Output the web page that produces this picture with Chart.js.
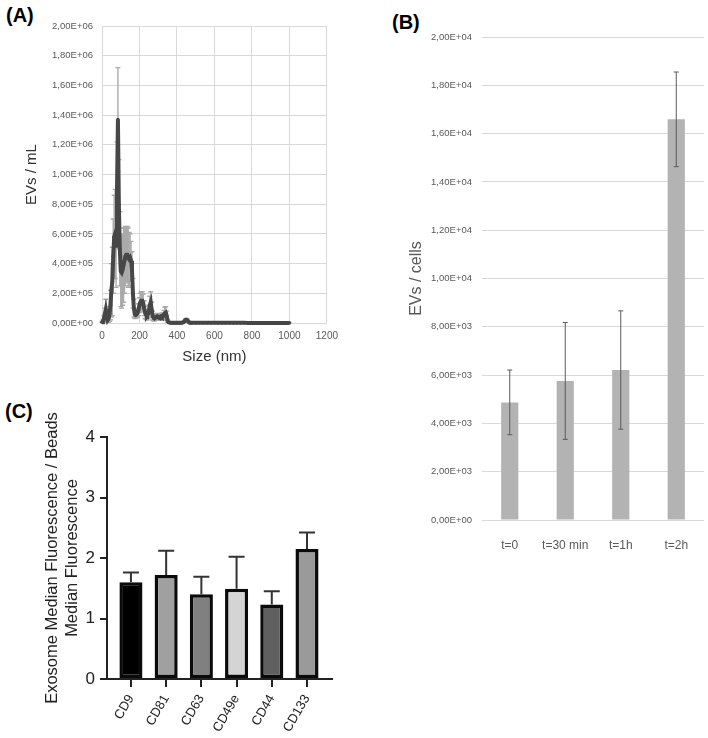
<!DOCTYPE html>
<html><head><meta charset="utf-8">
<script src="https://cdn.jsdelivr.net/npm/chart.js@4.4.1/dist/chart.umd.min.js"></script>
<style>
html,body{margin:0;padding:0;background:#fff;width:708px;height:738px;overflow:hidden;position:relative;font-family:"Liberation Sans",Arial,sans-serif}
canvas{position:absolute}
.lbl{position:absolute;font-weight:bold;font-size:20px;line-height:20px;color:#000;font-family:"Liberation Sans",Arial,sans-serif}
</style></head><body>
<div class="lbl" style="left:6px;top:5px">(A)</div>
<div class="lbl" style="left:392px;top:12px">(B)</div>
<div class="lbl" style="left:5px;top:401px">(C)</div>
<canvas id="cA" width="345" height="380" style="left:0;top:0"></canvas>
<canvas id="cB" width="348" height="560" style="left:360px;top:0"></canvas>
<canvas id="cC" width="360" height="358" style="left:0;top:380px"></canvas>
<script>
// ---------- Panel A: size distribution ----------
const sizeNm = [0,5,10,15,20,25,30,35,40,45,
  50,55,60,65,70,75,80,85,90,95,
  100,105,110,115,120,125,130,135,140,145,
  150,155,160,165,170,175,180,185,190,195,
  200,205,210,215,220,225,230,235,240,245,
  250,255,260,265,270,275,280,285,290,295,
  300,305,310,315,320,325,330,335,340,345,
  350,355,360,365,370,375,380,385,390,395,
  400,405,410,415,420,425,430,435,440,445,
  450,455,460,465,470,475,480,
  500,520,540,560,580,600,620,640,660,680,
  700,720,740,760,780,800,820,840,860,880,
  900,920,940,960,980,1000];
const evsPerMl = [5000,10000,30000,60000,90000,50000,20000,30000,60000,120000,
  220000,280000,450000,580000,600000,520000,900000,1370000,800000,500000,
  350000,340000,360000,390000,420000,450000,460000,460000,440000,430000,
  440000,420000,360000,200000,100000,60000,55000,60000,70000,90000,
  120000,140000,150000,150000,135000,100000,70000,55000,50000,60000,
  80000,120000,140000,90000,50000,35000,30000,35000,40000,45000,
  40000,35000,40000,45000,40000,45000,55000,65000,70000,50000,
  15000,5000,3000,2000,2000,2000,2000,2000,2000,2000,
  2000,2000,2000,2000,2000,2000,3000,5000,12000,20000,
  22000,18000,10000,4000,2000,1500,1500,
  1500,1400,1300,1300,1200,1200,1100,1100,1000,1000,
  1000,900,900,900,800,800,800,800,700,700,
  700,700,600,600,600,600];
const evsPerMlErr = [5000,10000,20000,40000,70000,40000,20000,30000,50000,100000,
  180000,230000,250000,280000,300000,280000,320000,350000,300000,250000,
  240000,240000,240000,250000,220000,200000,180000,190000,200000,180000,
  160000,130000,120000,100000,60000,30000,20000,25000,30000,40000,
  50000,60000,60000,60000,60000,50000,40000,30000,30000,30000,
  40000,60000,70000,50000,30000,20000,15000,15000,20000,20000,
  20000,15000,20000,20000,20000,25000,30000,40000,40000,30000,
  10000,5000,2000,1000,1000,1000,1000,1000,1000,1000,
  1000,1000,1000,1000,1000,1000,1000,3000,6000,8000,
  8000,7000,5000,2000,1000,500,500,
  300,300,300,300,300,300,300,300,300,300,
  300,300,300,300,300,300,300,300,300,300,
  300,300,300,300,300,300];

// ---------- Panel B: EVs per cell over time ----------
const timeLabels = ['t=0','t=30 min','t=1h','t=2h'];
const evsPerCell = [4870, 5760, 6210, 16590];
const evsPerCellErr = [1340, 2420, 2450, 1960];

// ---------- Panel C: marker fluorescence ----------
const markers = ['CD9','CD81','CD63','CD49e','CD44','CD133'];
const fluorRatio = [1.60, 1.72, 1.40, 1.49, 1.23, 2.15];
const fluorRatioErr = [0.16, 0.40, 0.29, 0.53, 0.22, 0.27];
const markerColors = ['#000000','#a0a0a0','#808080','#d4d4d4','#606060','#9a9a9a'];

function fmtE(v){
  if (v === 0) return '0,00E+00';
  const parts = Number(v).toExponential(2).split('e');
  const e = parseInt(parts[1], 10);
  return parts[0].replace('.', ',') + 'E' + (e < 0 ? '-' : '+') + String(Math.abs(e)).padStart(2, '0');
}

function drawErrors(chart, o){
  const meta = chart.getDatasetMeta(0);
  const ys = chart.scales.y;
  const ds = chart.data.datasets[0].data;
  const ctx = chart.ctx;
  const a = chart.chartArea;
  ctx.save();
  ctx.beginPath();
  ctx.rect(a.left - 20, a.top - 2, a.right - a.left + 40, a.bottom - a.top + 2);
  ctx.clip();
  ctx.strokeStyle = o.color;
  ctx.lineWidth = o.width;
  meta.data.forEach((el, i) => {
    const d = ds[i];
    const v = (typeof d === 'object') ? d.y : d;
    const e = o.errors[i];
    const x = el.x;
    const yTop = ys.getPixelForValue(v + e);
    const yBot = ys.getPixelForValue(o.upOnly ? v : v - e);
    ctx.beginPath();
    ctx.moveTo(x, yBot); ctx.lineTo(x, yTop);
    ctx.moveTo(x - o.cap / 2, yTop); ctx.lineTo(x + o.cap / 2, yTop);
    if (!o.upOnly) { ctx.moveTo(x - o.cap / 2, yBot); ctx.lineTo(x + o.cap / 2, yBot); }
    ctx.stroke();
  });
  ctx.restore();
}
const errorBarPlugin = {
  id: 'errorBars',
  beforeDatasetsDraw(chart, args, opts){ if (opts.layer === 'below') drawErrors(chart, opts); },
  afterDatasetsDraw(chart, args, opts){ if (opts.layer !== 'below') drawErrors(chart, opts); }
};

Chart.defaults.font.family = '"Liberation Sans", Arial, sans-serif';
Chart.defaults.animation = false;
Chart.defaults.responsive = false;
Chart.defaults.devicePixelRatio = 1;
Chart.defaults.plugins.legend.display = false;
Chart.defaults.plugins.tooltip.enabled = false;

// Panel A
new Chart(document.getElementById('cA'), {
  type: 'line',
  data: { datasets: [{
    data: sizeNm.map((s, i) => ({ x: s, y: evsPerMl[i] })),
    borderColor: '#474747', backgroundColor: '#474747',
    borderWidth: 4, pointRadius: 1.8, pointBorderWidth: 0, tension: 0, clip: 6
  }]},
  options: {
    layout: { padding: { top: 26, right: 15, bottom: 0, left: 0 } },
    plugins: { errorBars: { errors: evsPerMlErr, color: '#aaaaaa', width: 1.4, cap: 5, layer: 'below' } },
    scales: {
      x: { type: 'linear', min: 0, max: 1200,
        ticks: { stepSize: 200, callback: (v) => String(v), color: '#595959', font: { size: 10 }, padding: 7, maxRotation: 0 },
        grid: { color: '#d9d9d9', drawTicks: false }, border: { display: false },
        title: { display: true, text: 'Size (nm)', color: '#333333', font: { size: 15 }, padding: { top: 0, bottom: 14 } },
        afterFit(s){ s.height = 57; } },
      y: { min: 0, max: 2000000,
        ticks: { stepSize: 200000, callback: (v) => fmtE(v), color: '#595959', font: { size: 9.5 }, padding: 9 },
        grid: { color: '#d9d9d9', drawTicks: false }, border: { display: false },
        title: { display: true, text: 'EVs / mL', color: '#333333', font: { size: 15 }, padding: { top: 23, bottom: 0 } },
        afterFit(s){ s.width = 102; } }
    }
  },
  plugins: [errorBarPlugin]
});

// Panel B
new Chart(document.getElementById('cB'), {
  type: 'bar',
  data: { labels: timeLabels, datasets: [{
    data: evsPerCell, backgroundColor: '#b3b3b3', categoryPercentage: 1, barPercentage: 0.31
  }]},
  options: {
    layout: { padding: { top: 37, right: 4, bottom: 0, left: 0 } },
    plugins: { errorBars: { errors: evsPerCellErr, color: '#5a5a5a', width: 1, cap: 5 } },
    scales: {
      x: { grid: { display: false }, border: { display: false },
        ticks: { color: '#595959', font: { size: 12 }, padding: 10 },
        afterFit(s){ s.height = 40; } },
      y: { min: 0, max: 20000,
        ticks: { stepSize: 2000, callback: (v) => fmtE(v), color: '#595959', font: { size: 9.5 }, padding: 10 },
        grid: { color: '#d9d9d9', drawTicks: false }, border: { display: false },
        title: { display: true, text: 'EVs / cells', color: '#595959', font: { size: 16 }, padding: { top: 47, bottom: 0 } },
        afterFit(s){ s.width = 122; } }
    }
  },
  plugins: [errorBarPlugin]
});

// Panel C
new Chart(document.getElementById('cC'), {
  type: 'bar',
  data: { datasets: [{
    data: markers.map((m, i) => ({ x: i, y: fluorRatio[i] })),
    backgroundColor: markerColors, borderColor: '#0a0a0a', borderWidth: 3.5, borderSkipped: false,
    categoryPercentage: 1, barPercentage: 0.655
  }]},
  options: {
    layout: { padding: { top: 57, right: 28, bottom: 0, left: 0 } },
    plugins: { errorBars: { errors: fluorRatioErr, color: '#333333', width: 2, cap: 16, upOnly: true } },
    scales: {
      x: { type: 'linear', min: -0.68, max: 5.71, offset: false,
        afterBuildTicks(s){ s.ticks = markers.map((m, i) => ({ value: i })); },
        ticks: { callback: (v) => markers[v], color: '#222222', font: { size: 13 }, minRotation: 60, maxRotation: 60, padding: 5, autoSkip: false },
        grid: { offset: false, drawOnChartArea: false, drawTicks: true, tickLength: 8, color: '#222222', lineWidth: 2 },
        border: { display: true, color: '#222222', width: 2 },
        afterFit(s){ s.height = 59; } },
      y: { min: 0, max: 4,
        ticks: { stepSize: 1, color: '#222222', font: { size: 17 }, padding: 5 },
        grid: { drawOnChartArea: false, tickLength: 7, color: '#222222', lineWidth: 2 },
        border: { display: true, color: '#222222', width: 2 },
        title: { display: true, text: ['Exosome Median Fluorescence / Beads', 'Median Fluorescence'], color: '#222222', font: { size: 16.5 }, padding: { top: 43, bottom: 0 } },
        afterFit(s){ s.width = 107; } }
    }
  },
  plugins: [errorBarPlugin]
});
</script>
</body></html>
